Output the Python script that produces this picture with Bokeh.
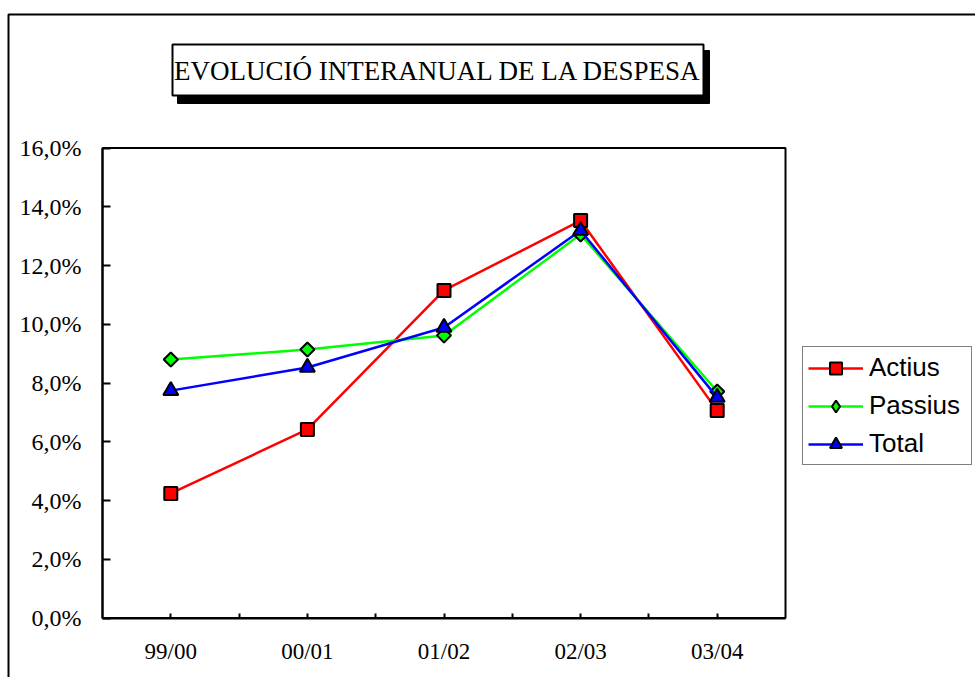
import math
from bokeh.plotting import figure
from bokeh.models import (FixedTicker, BoxAnnotation, Label, Legend, LegendItem,
                          Range1d, ColumnDataSource)
from bokeh.embed import file_html
from bokeh.resources import INLINE

# ---- data ----
categories = ["99/00", "00/01", "01/02", "02/03", "03/04"]
actius = [4.24, 6.42, 11.15, 13.53, 7.06]
passius = [8.80, 9.14, 9.62, 13.06, 7.71]
total = [7.74, 8.53, 9.89, 13.19, 7.51]
y_ticks = [0, 2, 4, 6, 8, 10, 12, 14, 16]
y_tick_labels = ["0,0%", "2,0%", "4,0%", "6,0%", "8,0%", "10,0%", "12,0%", "14,0%", "16,0%"]
title_text = "EVOLUCIÓ INTERANUAL DE LA DESPESA"
series_names = ["Actius", "Passius", "Total"]

# ---- layout (pixels on the canvas) ----
W, H = 975, 677
PA_LEFT, PA_RIGHT, PA_TOP, PA_BOTTOM = 102.0, 785.0, 147.5, 617.5
Y_MIN, Y_MAX = 0.0, 16.0
N = len(categories)
sx = (PA_RIGHT - PA_LEFT) / N
sy = (PA_BOTTOM - PA_TOP) / (Y_MAX - Y_MIN)


def px2x(px):
    return (px - PA_LEFT) / sx


def px2y(py):
    return Y_MIN + (PA_BOTTOM - py) / sy


xpos = [i + 0.5 for i in range(N)]
src = ColumnDataSource(dict(x=xpos, actius=actius, passius=passius, total=total))

p = figure(width=W, height=H, output_backend="svg", toolbar_location=None,
           x_range=Range1d(px2x(0), px2x(W)), y_range=Range1d(px2y(H), px2y(0)),
           min_border=0, min_border_left=0, min_border_right=0,
           min_border_top=0, min_border_bottom=0)
p.title.visible = False
p.xgrid.visible = False
p.ygrid.visible = False
p.background_fill_color = "white"
p.border_fill_color = "white"
p.outline_line_color = None

# x axis
xa = p.xaxis[0]
xa.fixed_location = Y_MIN
xa.bounds = (0, N)
xa.ticker = FixedTicker(ticks=xpos, minor_ticks=[float(i) for i in range(1, N)])
xa.major_label_overrides = {xv: c for xv, c in zip(xpos, categories)}
xa.major_tick_in = 5
xa.major_tick_out = 0
xa.minor_tick_in = 5
xa.minor_tick_out = 0
xa.minor_tick_line_color = "black"
xa.minor_tick_line_width = 2
xa.major_tick_line_width = 2
xa.axis_line_width = 2
xa.axis_line_color = "black"
xa.major_label_text_font = "Liberation Serif"
xa.major_label_text_font_size = "23px"
xa.major_label_text_color = "black"
xa.major_label_standoff = 21

# y axis
ya = p.yaxis[0]
ya.fixed_location = 0
ya.bounds = (Y_MIN, Y_MAX)
ya.ticker = FixedTicker(ticks=y_ticks, minor_ticks=[])
ya.major_label_overrides = {t: l for t, l in zip(y_ticks, y_tick_labels)}
ya.major_tick_in = 8
ya.major_tick_out = 0
ya.major_tick_line_width = 2
ya.axis_line_width = 2
ya.axis_line_color = "black"
ya.major_label_text_font = "Liberation Serif"
ya.major_label_text_font_size = "24px"
ya.major_label_text_color = "black"
ya.major_label_standoff = 21

# outer chart border
p.add_layout(BoxAnnotation(left=px2x(8), right=px2x(W + 50), top=px2y(14), bottom=px2y(H + 50),
                           fill_alpha=0, line_color="black", line_alpha=1, line_width=2))

# plot area border
p.add_layout(BoxAnnotation(left=0, right=N, bottom=Y_MIN, top=Y_MAX,
                           fill_alpha=0, line_color="black", line_alpha=1, line_width=2))

# title box with shadow
p.add_layout(BoxAnnotation(left=px2x(177), right=px2x(709), top=px2y(50), bottom=px2y(103),
                           fill_color="black", fill_alpha=1, line_color="black",
                           line_alpha=1))
p.add_layout(BoxAnnotation(left=px2x(172), right=px2x(703), top=px2y(44), bottom=px2y(95),
                           fill_color="white", fill_alpha=1, line_color="black",
                           line_alpha=1, line_width=2))
p.add_layout(Label(x=px2x(437.5), y=px2y(70), text=title_text,
                   text_align="center", text_baseline="middle",
                   text_font="Liberation Serif", text_font_size="27px",
                   text_color="black"))

# series
LW = 2.5
l1 = p.line("x", "actius", source=src, line_color="#FF0000", line_width=LW)
s1 = p.scatter("x", "actius", source=src, marker="square", size=13,
               fill_color="#FF0000", line_color="black", line_width=2)
l2 = p.line("x", "passius", source=src, line_color="#00FF00", line_width=LW)
# diamond used for the legend symbol (hidden under the rotated squares in the plot)
d2 = p.scatter("x", "passius", source=src, marker="diamond", size=12,
               fill_color="#00FF00", line_color="black", line_width=2)
s2 = p.scatter("x", "passius", source=src, marker="square", size=10, angle=math.pi / 4,
               fill_color="#00FF00", line_color="black", line_width=2)
l3 = p.line("x", "total", source=src, line_color="#0000FF", line_width=LW)
s3 = p.scatter("x", "total", source=src, marker="triangle", size=15,
               fill_color="#0000FF", line_color="black", line_width=2)

legend = Legend(items=[LegendItem(label=series_names[0], renderers=[l1, s1]),
                       LegendItem(label=series_names[1], renderers=[l2, d2]),
                       LegendItem(label=series_names[2], renderers=[l3, s3])],
                location=(802, H - 465))
legend.label_text_font = "Liberation Sans"
legend.label_text_font_size = "26px"
legend.label_text_color = "black"
legend.glyph_width = 55
legend.glyph_height = 30
legend.label_height = 30
legend.label_width = 97
legend.label_standoff = 6
legend.spacing = 7
legend.padding = 5
legend.margin = 0
legend.border_line_color = "black"
legend.border_line_width = 1
legend.background_fill_color = "white"
legend.background_fill_alpha = 1
p.add_layout(legend)

open("out.html", "w").write(file_html(p, INLINE))
